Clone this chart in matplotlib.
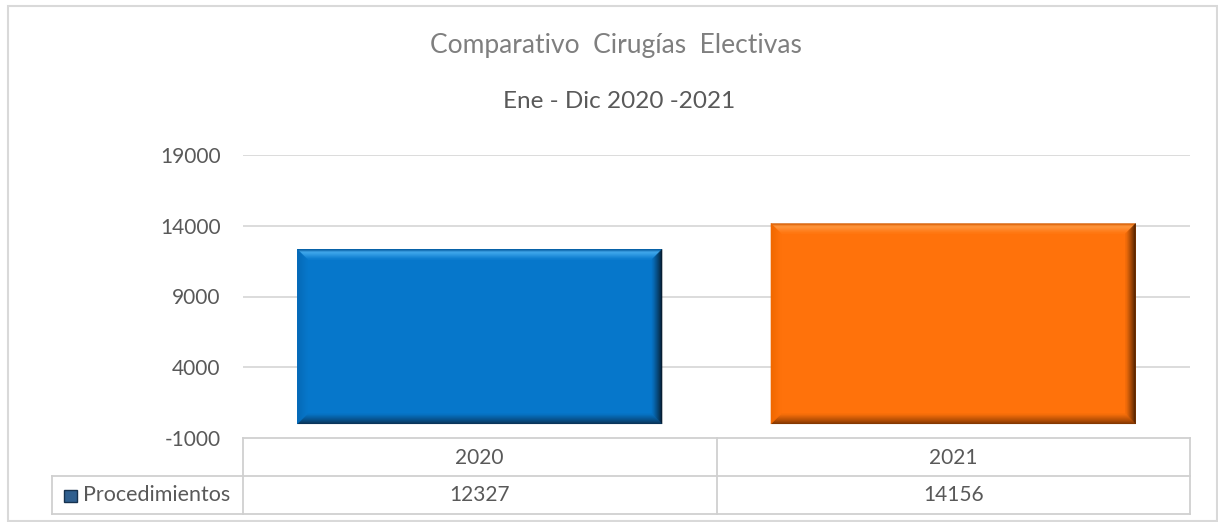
import matplotlib
matplotlib.use("Agg")
import matplotlib.pyplot as plt
import numpy as np
from matplotlib.patches import Polygon, Rectangle
from matplotlib.lines import Line2D
from matplotlib.colors import to_rgb

# Data
years = ["2020", "2021"]
procedimientos = [12327, 14156]
series_name = "Procedimientos"
title = "Comparativo  Cirugías  Electivas"
subtitle = "Ene - Dic 2020 -2021"
yticks = [-1000, 4000, 9000, 14000, 19000]

W, H = 1218, 522
DPI = 100
plt.rcParams["font.family"] = ["Lato", "DejaVu Sans"]
TXT = "#595959"

fig = plt.figure(figsize=(W / DPI, H / DPI), dpi=DPI)
fig.patch.set_facecolor("white")


def fx(x):
    return x / W


def fy(y):
    return 1 - y / H


# plot area
L, R, T, B = 243, 1190, 155, 438
ax = fig.add_axes([fx(L), fy(B), fx(R) - fx(L), fy(T) - fy(B)])
ax.set_xlim(-0.5, 1.5)
ax.set_ylim(yticks[0], yticks[-1])
ax.set_yticks(yticks)
ax.set_yticklabels([str(v) for v in yticks], fontsize=15, color=TXT)
ax.tick_params(axis="y", length=0, pad=16)
ax.set_xticks([])
for s in ax.spines.values():
    s.set_visible(False)
for v in yticks[1:]:
    ax.axhline(v, color="#d9d9d9", lw=1.3, zorder=0)

fills = ["#0677cb", "#ff720b"]
bevel = [
    dict(top_outer="#0a5d9e", top_mid="#47aef0", right="#06192a", bottom="#0a2f50", left="#0568b5"),
    dict(top_outer="#d25a00", top_mid="#ff9c45", right="#3a1800", bottom="#7a3300", left="#f06800"),
]

bars = ax.bar(range(len(years)), procedimientos, width=0.77, color=fills, zorder=2, linewidth=0)


def mix(c1, c2, t):
    a, b = np.array(to_rgb(c1)), np.array(to_rgb(c2))
    return tuple(a + (b - a) * t)


# bevelled edges drawn as nested frames in pixel space
bw = 10
for bar, fc, bv in zip(bars, fills, bevel):
    x0, y0 = bar.get_x(), bar.get_y()
    x1, y1 = x0 + bar.get_width(), y0 + bar.get_height()
    (px0, pyb), (px1, pyt) = ax.transData.transform([(x0, y0), (x1, y1)])
    for i in range(bw):
        t = i / bw
        a, b2 = i, i + 1
        if t < 0.25:
            ct = mix(bv["top_outer"], bv["top_mid"], t / 0.25)
        else:
            ct = mix(bv["top_mid"], fc, (t - 0.25) / 0.75)
        cr = mix(bv["right"], fc, t ** 0.8)
        cb = mix(bv["bottom"], fc, t ** 0.8)
        cl = mix(bv["left"], fc, t)
        polys = [
            ([(px0 + a, pyt - a), (px1 - a, pyt - a), (px1 - b2, pyt - b2), (px0 + b2, pyt - b2)], ct),
            ([(px1 - a, pyt - a), (px1 - a, pyb + a), (px1 - b2, pyb + b2), (px1 - b2, pyt - b2)], cr),
            ([(px0 + a, pyb + a), (px1 - a, pyb + a), (px1 - b2, pyb + b2), (px0 + b2, pyb + b2)], cb),
            ([(px0 + a, pyt - a), (px0 + a, pyb + a), (px0 + b2, pyb + b2), (px0 + b2, pyt - b2)], cl),
        ]
        for pts, c in polys:
            fig.add_artist(Polygon(pts, closed=True, transform=None, facecolor=c,
                                   edgecolor=c, lw=0.3, zorder=3))

# titles
fig.text(fx(616), fy(46), title, ha="center", va="center", fontsize=19, color="#7f7f7f")
fig.text(fx(619), fy(101), subtitle, ha="center", va="center", fontsize=17.5, color="#595959")

# data table
GRID = "#d0d0d0"
row1_top, row2_top, row2_bot = B, 476, 514
left_col = 52
mid = (L + R) / 2


def hline(x0, x1, y):
    fig.add_artist(Line2D([fx(x0), fx(x1)], [fy(y), fy(y)], color=GRID, lw=1.3))


def vline(x, y0, y1):
    fig.add_artist(Line2D([fx(x), fx(x)], [fy(y0), fy(y1)], color=GRID, lw=1.3))


hline(L, R, row1_top)
hline(left_col, R, row2_top)
hline(left_col, R, row2_bot)
vline(L, row1_top, row2_bot)
vline(mid, row1_top, row2_bot)
vline(R, row1_top, row2_bot)
vline(left_col, row2_top, row2_bot)

centers = [ax.transData.transform((i, 0))[0] for i in range(len(years))]
for cx, yr, v in zip(centers, years, procedimientos):
    fig.text(fx(cx), fy((row1_top + row2_top) / 2 + 1), yr, ha="center", va="center",
             fontsize=15, color=TXT)
    fig.text(fx(cx), fy((row2_top + row2_bot) / 2), f"{v}", ha="center", va="center",
             fontsize=15, color=TXT)

# legend key in the table row header
fig.add_artist(Rectangle((fx(64), fy(502)), fx(13), fy(490) - fy(502), facecolor="#2f5f8f",
                         edgecolor="#16324f", lw=1))
fig.text(fx(83), fy(495), series_name, ha="left", va="center", fontsize=15.5, color=TXT)

# chart border
fig.add_artist(Rectangle((fx(8), fy(521)), fx(W - 9), fy(6) - fy(521), fill=False,
                         edgecolor="#d9d9d9", lw=1.5))

fig.savefig("out.png", dpi=DPI)
